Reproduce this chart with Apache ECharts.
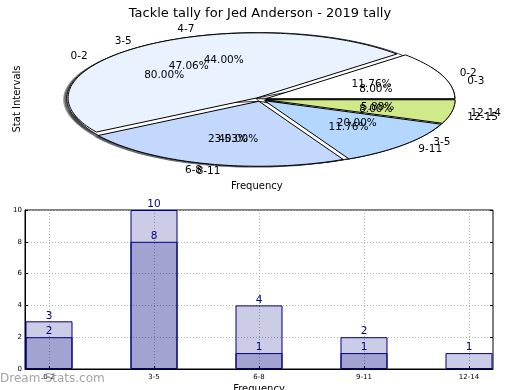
<!DOCTYPE html>
<html>
<head>
<meta charset="utf-8">
<script src="https://cdn.jsdelivr.net/npm/echarts@6/dist/echarts.min.js"></script>
<style>html,body{margin:0;padding:0;background:#fff}#c{width:520px;height:390px}</style>
</head>
<body>
<div id="c"></div>
<script>
const chartTitle = 'Tackle tally for Jed Anderson - 2019 tally';
// pie layers (drawn bottom to top: C, B, A)
const pieCategoriesA = ['0-2', '3-5', '6-8', '9-11', '12-14'];
const pieValuesA = [2, 8, 4, 2, 1];
const pieCategoriesB = ['0-3', '4-7', '8-11', '12-15'];
const pieValuesB = [2, 11, 10, 2];
const pieCategoriesC = ['0-2', '3-5'];
const pieValuesC = [4, 1];
const pieColorsA = ['#ffffff', '#eaf1ff', '#c4d8fe', '#b4d7fe', '#d0ea8a'];
// bar chart
const barCategories = ['0-2', '3-5', '6-8', '9-11', '12-14'];
const barTotals = [3, 10, 4, 2, 1];
const barInner = [2, 8, 1, 1, null];

const EXPLODE = 0.03;
const FONT = 'DejaVu Sans, sans-serif';

function wedges(values, labels) {
  const total = values.reduce((a, b) => a + b, 0);
  let acc = 0;
  return values.map((v, i) => {
    const start = acc / total * 360;
    acc += v;
    const end = acc / total * 360;
    return { start, end, mid: (start + end) / 2, pct: v / total * 100, label: labels[i] };
  });
}
const pies = [
  wedges(pieValuesC, pieCategoriesC),
  wedges(pieValuesB, pieCategoriesB),
  wedges(pieValuesA, pieCategoriesA)
];
const wedgeItems = [];
pies.forEach((p, pi) => p.forEach((w, wi) => wedgeItems.push([pi, wi])));
const lowerItems = wedgeItems.filter(it => it[0] < 2);
const topItems = pies[2].map((w, wi) => [2, wi]);

function wedgePolygon(api, w, ox, oy) {
  const m = w.mid * Math.PI / 180;
  const cx = EXPLODE * Math.cos(m) + ox, cy = EXPLODE * Math.sin(m) + oy;
  const pts = [api.coord([cx, cy])];
  const n = Math.max(2, Math.ceil((w.end - w.start) / 1.5));
  for (let k = 0; k <= n; k++) {
    const a = (w.start + (w.end - w.start) * k / n) * Math.PI / 180;
    pts.push(api.coord([cx + Math.cos(a), cy + Math.sin(a)]));
  }
  return pts;
}

const chart = echarts.init(document.getElementById('c'), null, { renderer: 'canvas' });
chart.setOption({
  animation: false,
  backgroundColor: '#fff',
  title: {
    text: chartTitle, left: 'center', top: 2,
    textStyle: { fontFamily: FONT, fontSize: 13, fontWeight: 'normal', color: '#000' }
  },
  grid: [
    { left: 5.35, top: 14.9, width: 510.3, height: 169, show: false, outerBoundsMode: 'none', containLabel: false },
    { left: 25, top: 210, width: 468, height: 159, show: true, borderColor: '#000', borderWidth: 1, backgroundColor: 'transparent', outerBoundsMode: 'none', containLabel: false }
  ],
  xAxis: [
    { gridIndex: 0, type: 'value', min: -1.35, max: 1.35, show: false },
    {
      gridIndex: 1, type: 'value', min: -0.2286, max: 4.2286,
      axisLine: { show: true, onZero: false, lineStyle: { color: '#000', width: 1 } },
      axisTick: { show: true, inside: true, length: 3, customValues: [0, 1, 2, 3, 4], lineStyle: { color: '#000' } },
      axisLabel: {
        customValues: [0, 1, 2, 3, 4], formatter: v => barCategories[Math.round(v)],
        fontSize: 7, fontFamily: FONT, color: '#000', margin: 5
      },
      splitLine: { show: true, lineStyle: { color: '#b0b0b0', type: [1, 2], width: 1 } },
      name: 'Frequency', nameLocation: 'middle', nameGap: 15,
      nameTextStyle: { fontFamily: FONT, fontSize: 10, color: '#000' }
    }
  ],
  yAxis: [
    { gridIndex: 0, type: 'value', min: -1.3, max: 1.3, show: false },
    {
      gridIndex: 1, type: 'value', min: 0, max: 10, interval: 2,
      axisLine: { show: true, onZero: false, lineStyle: { color: '#000', width: 1 } },
      axisTick: { show: true, inside: true, length: 3, lineStyle: { color: '#000' } },
      axisLabel: { fontSize: 7, fontFamily: FONT, color: '#000', margin: 3 },
      splitLine: { show: true, lineStyle: { color: '#b0b0b0', type: [1, 2], width: 1 } },
      name: 'Stat Intervals', nameLocation: 'middle', nameGap: 19, nameRotate: 90,
      nameTextStyle: { fontFamily: FONT, fontSize: 10, color: '#000' }
    },
    {
      gridIndex: 1, type: 'value', min: 0, max: 10, interval: 2, position: 'right',
      axisLine: { show: false, onZero: false }, axisLabel: { show: false }, splitLine: { show: false },
      axisTick: { show: true, inside: true, length: 3, lineStyle: { color: '#000' } }
    }
  ],
  graphic: [
    { type: 'text', left: 259 - 28, top: 181, style: { text: 'Frequency', font: '10px ' + FONT, fill: '#000' } },
    { type: 'text', x: 17, y: 99, rotation: Math.PI / 2, style: { text: 'Stat Intervals', font: '10px ' + FONT, fill: '#000', align: 'center', verticalAlign: 'middle' } },
    { type: 'text', left: 0, top: 373, z: 100, style: { text: 'Dream-Stats.com', font: '12px ' + FONT, fill: 'rgba(140,140,140,0.8)' } }
  ],
  series: [
    {
      type: 'custom', xAxisIndex: 0, yAxisIndex: 0, z: 1, silent: true,
      data: wedgeItems,
      renderItem: (params, api) => {
        const it = wedgeItems[params.dataIndex];
        const w = pies[it[0]][it[1]];
        return { type: 'polygon', shape: { points: wedgePolygon(api, w, -0.02, -0.02) },
          style: { fill: 'rgba(40,40,40,0.45)', stroke: null } };
      }
    },
    {
      type: 'custom', xAxisIndex: 0, yAxisIndex: 0, z: 2, silent: true,
      data: lowerItems,
      renderItem: (params, api) => {
        const it = lowerItems[params.dataIndex];
        const w = pies[it[0]][it[1]];
        return { type: 'polygon', shape: { points: wedgePolygon(api, w, 0, 0) },
          style: { fill: '#ffffff', stroke: '#000', lineWidth: 0.8, lineJoin: 'round' } };
      }
    },
    {
      type: 'custom', xAxisIndex: 0, yAxisIndex: 0, z: 3, silent: true,
      data: topItems,
      renderItem: (params, api) => {
        const w = pies[2][params.dataIndex];
        return { type: 'polygon', shape: { points: wedgePolygon(api, w, 0, 0) },
          style: { fill: pieColorsA[params.dataIndex % pieColorsA.length], stroke: '#000', lineWidth: 1, lineJoin: 'round' } };
      }
    },
    {
      type: 'custom', xAxisIndex: 0, yAxisIndex: 0, z: 4, silent: true,
      data: wedgeItems,
      renderItem: (params, api) => {
        const it = wedgeItems[params.dataIndex];
        const w = pies[it[0]][it[1]];
        const m = w.mid * Math.PI / 180;
        const lx = (1.1 + EXPLODE) * Math.cos(m), ly = (1.1 + EXPLODE) * Math.sin(m);
        const px = (0.6 + EXPLODE) * Math.cos(m), py = (0.6 + EXPLODE) * Math.sin(m);
        const lp = api.coord([lx, ly]), pp = api.coord([px, py]);
        return {
          type: 'group', children: [
            { type: 'text', x: lp[0], y: lp[1], style: { text: w.label, font: '10.5px ' + FONT, fill: '#000', align: lx > 0 ? 'left' : 'right', verticalAlign: 'middle' } },
            { type: 'text', x: pp[0], y: pp[1], style: { text: w.pct.toFixed(2) + '%', font: '10.5px ' + FONT, fill: '#000', align: 'center', verticalAlign: 'middle' } }
          ]
        };
      }
    },
    {
      type: 'bar', xAxisIndex: 1, yAxisIndex: 1, barWidth: 47, barGap: '-100%', z: 2,
      data: barTotals.map((v, i) => [i, v]),
      itemStyle: { color: 'rgba(0,0,128,0.2)', borderColor: '#000080', borderWidth: 1 },
      label: { show: true, position: 'top', distance: 0, color: '#000080', fontSize: 10.5, fontFamily: FONT, formatter: p => p.value[1] }
    },
    {
      type: 'bar', xAxisIndex: 1, yAxisIndex: 1, barWidth: 47, barGap: '-100%', z: 3,
      data: barInner.map((v, i) => [i, v === null ? '-' : v]),
      itemStyle: { color: 'rgba(0,0,128,0.2)', borderColor: '#000080', borderWidth: 1 },
      label: { show: true, position: 'top', distance: 0, color: '#000080', fontSize: 10.5, fontFamily: FONT, formatter: p => p.value[1] }
    }
  ]
});
</script>
</body>
</html>
